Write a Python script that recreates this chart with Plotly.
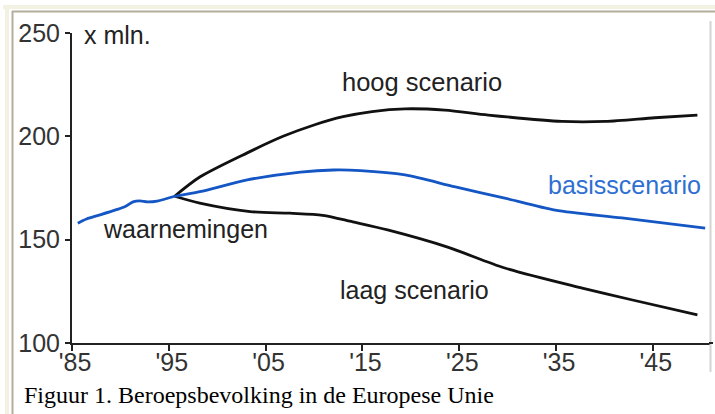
import plotly.graph_objects as go

# ---- data ----
obs_years = [1985.6, 1986.5, 1987.9, 1989.6, 1990.5, 1991.3, 1992.0, 1992.8, 1993.8, 1995.6]
obs_vals = [158.0, 160.0, 162.0, 164.5, 166.0, 168.3, 168.8, 168.3, 168.7, 171.0]

high_years = [1995.6, 1998.2, 2003.1, 2006.8, 2010.0, 2013.0, 2016.0, 2019.4, 2023.5, 2028.0, 2035.6, 2040.1, 2045.2, 2049.6]
high_vals = [171.0, 180.3, 192.0, 200.0, 205.5, 209.5, 212.0, 213.3, 212.7, 210.3, 207.2, 207.2, 209.0, 210.3]

base_years = [1995.6, 1998.2, 2003.1, 2008.6, 2012.0, 2014.8, 2019.4, 2024.6, 2029.7, 2034.9, 2041.8, 2050.4]
base_vals = [171.0, 173.2, 178.9, 182.7, 183.7, 183.4, 181.3, 175.5, 170.1, 164.3, 160.5, 155.6]

low_years = [1995.6, 1998.2, 2003.4, 2007.5, 2010.9, 2014.0, 2017.6, 2023.8, 2029.7, 2037.7, 2042.9, 2049.6]
low_vals = [171.0, 167.7, 163.6, 162.8, 161.8, 158.6, 154.7, 146.4, 136.3, 126.6, 120.8, 113.6]

x_tickvals = [1985, 1995, 2005, 2015, 2025, 2035, 2045]
x_ticktext = ["'85", "'95", "'05", "'15", "'25", "'35", "'45"]
y_tickvals = [100, 150, 200, 250]
y_ticktext = ["100", "150", "200", "250"]

unit_label = "x mln."
caption = "Figuur 1. Beroepsbevolking in de Europese Unie"
series_labels = ["hoog scenario", "basisscenario", "waarnemingen", "laag scenario"]

# ---- figure ----
W, H = 715, 414
BLACK = "#111111"
BLUE = "#1456c4"
BLUE_TXT = "#2e6fd2"
SANS = "Liberation Sans, Arial, sans-serif"
SERIF = "Liberation Serif, Times New Roman, serif"

fig = go.Figure()
line_kw = dict(shape="spline", smoothing=0.8, width=2.8)
fig.add_trace(go.Scatter(x=high_years, y=high_vals, mode="lines", line=dict(color=BLACK, **line_kw), hoverinfo="skip"))
fig.add_trace(go.Scatter(x=low_years, y=low_vals, mode="lines", line=dict(color=BLACK, **line_kw), hoverinfo="skip"))
fig.add_trace(go.Scatter(x=base_years, y=base_vals, mode="lines", line=dict(color=BLUE, **line_kw), hoverinfo="skip"))
fig.add_trace(go.Scatter(x=obs_years, y=obs_vals, mode="lines", line=dict(color=BLUE, **line_kw), hoverinfo="skip"))

# plot area in pixels: x 72..710, y 33(250)..343(100)
x0p, x1p, ytop, ybot = 72, 710, 33, 343
fig.update_layout(
    width=W, height=H, autosize=False,
    margin=dict(l=0, r=0, t=0, b=0, pad=0, autoexpand=False),
    paper_bgcolor="white", plot_bgcolor="white",
    showlegend=False,
    xaxis=dict(
        domain=[x0p / W, x1p / W], range=[1985, 2050.9], automargin=False,
        showgrid=False, zeroline=False,
        showline=True, linecolor="#222", linewidth=2,
        tickmode="array", tickvals=x_tickvals, ticktext=x_ticktext,
        ticks="outside", ticklen=6, tickwidth=1.5, tickcolor="#222",
        ticklabelstandoff=-10, ticklabelshift=3,
        tickfont=dict(family=SANS, size=25, color="#333"),
    ),
    yaxis=dict(
        domain=[(H - ybot) / H, (H - ytop) / H], range=[100, 250], automargin=False,
        showgrid=False, zeroline=False,
        showline=True, linecolor="#222", linewidth=2,
        tickmode="array", tickvals=y_tickvals, ticktext=y_ticktext,
        ticks="outside", ticklen=5, tickwidth=1.5, tickcolor="#222",
        tickfont=dict(family=SANS, size=25, color="#333"),
    ),
)

ann_font = dict(family=SANS, size=25, color="#222")
fig.add_annotation(x=1986.0, y=249, text=unit_label, showarrow=False, xanchor="left", yanchor="middle", font=ann_font)
fig.add_annotation(x=2021.2, y=226.3, text=series_labels[0], showarrow=False, font=dict(family=SANS, size=25.5, color="#222"))
fig.add_annotation(x=2042.1, y=176.4, text=series_labels[1], showarrow=False, font=dict(family=SANS, size=25, color=BLUE_TXT))
fig.add_annotation(x=1996.7, y=155.0, text=series_labels[2], showarrow=False, font=ann_font)
fig.add_annotation(x=2020.4, y=125.6, text=series_labels[3], showarrow=False, font=ann_font)
fig.add_annotation(xref="paper", yref="paper", x=22 / W, y=1 - 395 / H, text=caption, showarrow=False,
                   xanchor="left", yanchor="middle", font=dict(family=SERIF, size=24, color="black"))

# frame decoration (pixel -> paper)
def px(x):
    return x / W

def py(y):
    return 1 - y / H

shapes = [
    dict(type="rect", xref="paper", yref="paper", x0=px(3), x1=px(715), y0=py(9), y1=py(5), fillcolor="#f3f1e1", line_width=0),
    dict(type="rect", xref="paper", yref="paper", x0=px(5), x1=px(9), y0=py(414), y1=py(5), fillcolor="#f3f1e1", line_width=0),
    dict(type="line", xref="paper", yref="paper", x0=px(12), x1=px(715), y0=py(11.5), y1=py(11.5), line=dict(color="#b3ad9c", width=2)),
    dict(type="line", xref="paper", yref="paper", x0=px(12.5), x1=px(12.5), y0=py(414), y1=py(11), line=dict(color="#b3ad9c", width=2)),
    dict(type="line", xref="paper", yref="paper", x0=px(710.5), x1=px(710.5), y0=py(372), y1=py(21), line=dict(color="#d4d4d4", width=2)),
    dict(type="line", xref="paper", yref="paper", x0=px(709), x1=px(713), y0=py(343), y1=py(343), line=dict(color="#222", width=2)),
]
fig.update_layout(shapes=shapes)

fig.write_html(
    "out.html",
    config={"responsive": False, "displayModeBar": False},
    post_script="document.documentElement.style.margin='0';document.body.style.margin='0';"
                "document.body.style.padding='0';document.body.style.overflow='hidden';",
)
